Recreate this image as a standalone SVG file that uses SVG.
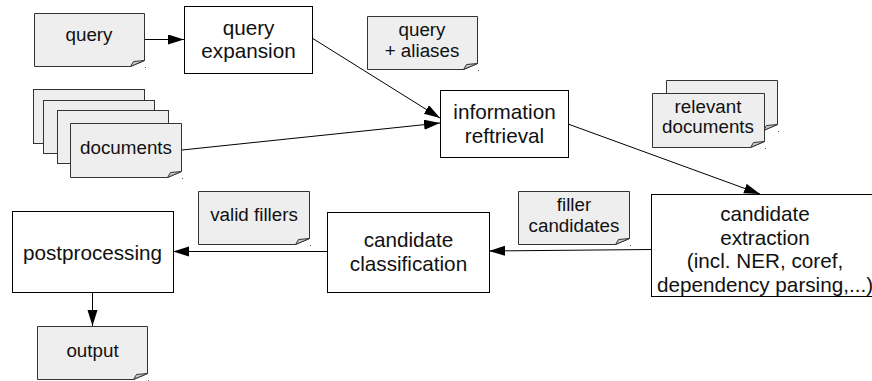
<svg xmlns="http://www.w3.org/2000/svg" width="872" height="381" viewBox="0 0 872 381">
<style>
.proc{fill:#fff;stroke:#000;stroke-width:1}
.doc{fill:#eeeeee;stroke:#333;stroke-width:1}
.fold{fill:#c8c8c8;stroke:#333;stroke-width:1;stroke-linejoin:round}
.dot{fill:#555}
.pt{font-family:"Liberation Sans",Arial,sans-serif;font-size:20.7px;fill:#111;text-anchor:middle}
.dt{font-family:"Liberation Sans",Arial,sans-serif;font-size:18.8px;fill:#111;text-anchor:middle}
.conn{stroke:#000;stroke-width:1;fill:none;marker-end:url(#ah)}
</style>
<defs>
<marker id="ah" markerUnits="userSpaceOnUse" markerWidth="17" markerHeight="11" refX="16" refY="5" orient="auto">
<path d="M0,0 L16,5 L0,10 z" fill="#000"/>
</marker>
</defs>

<g id="connectors">
<line class="conn" x1="144" y1="39.5" x2="184" y2="39.5"/>
<line class="conn" x1="312" y1="38" x2="440" y2="118"/>
<line class="conn" x1="182" y1="150" x2="440" y2="123"/>
<line class="conn" x1="568" y1="124" x2="760" y2="194"/>
<line class="conn" x1="651" y1="249.5" x2="489" y2="251"/>
<line class="conn" x1="327" y1="251.5" x2="173" y2="251.5"/>
<line class="conn" x1="92.5" y1="292" x2="92.5" y2="326"/>
</g>

<g id="query">
<path class="doc" d="M34.5,13.5 H144.5 V60.5 L130.5,66.5 H34.5 Z"/>
<path class="fold" d="M144.5,60.5 L130.5,66.5 L133.5,61.5 Z"/>
<rect class="dot" x="145" y="67" width="1" height="1"/>
<text class="dt" x="89" y="41">query</text>
</g>

<g id="query-expansion">
<rect class="proc" x="184.5" y="6.5" width="128" height="67"/>
<text class="pt" x="248.5" y="35">query</text>
<text class="pt" x="248.5" y="58">expansion</text>
</g>

<g id="query-aliases">
<path class="doc" d="M367.5,16.5 H477.5 V63.5 L463.5,69.5 H367.5 Z"/>
<path class="fold" d="M477.5,63.5 L463.5,69.5 L466.5,64.5 Z"/>
<rect class="dot" x="478" y="70" width="1" height="1"/>
<text class="dt" x="422" y="36">query</text>
<text class="dt" x="422" y="57">+ aliases</text>
</g>

<g id="documents">
<rect class="doc" x="33.5" y="89.5" width="111" height="54"/>
<rect class="doc" x="43.5" y="100.5" width="111" height="53"/>
<rect class="doc" x="57.5" y="110.5" width="111" height="53"/>
<path class="doc" d="M70.5,123.5 H181.5 V171.5 L167.5,177.5 H70.5 Z"/>
<path class="fold" d="M181.5,171.5 L167.5,177.5 L170.5,172.5 Z"/>
<rect class="dot" x="182" y="178" width="1" height="1"/>
<text class="dt" x="126" y="154">documents</text>
</g>

<g id="information-retrieval">
<rect class="proc" x="440.5" y="90.5" width="128" height="67"/>
<text class="pt" x="504.5" y="119">information</text>
<text class="pt" x="504.5" y="143">reftrieval</text>
</g>

<g id="relevant-documents">
<path class="doc" d="M666.5,80.5 H777.5 V124.5 L763.5,130.5 H666.5 Z"/>
<path class="fold" d="M777.5,124.5 L763.5,130.5 L766.5,125.5 Z"/>
<rect class="dot" x="778" y="131" width="1" height="1"/>
<path class="doc" d="M652.5,93.5 H764.5 V141.5 L750.5,147.5 H652.5 Z"/>
<path class="fold" d="M764.5,141.5 L750.5,147.5 L753.5,142.5 Z"/>
<rect class="dot" x="765" y="148" width="1" height="1"/>
<text class="dt" x="708" y="113">relevant</text>
<text class="dt" x="708" y="133">documents</text>
</g>

<g id="candidate-extraction">
<rect class="proc" x="651.5" y="194.5" width="230" height="102"/>
<text class="pt" x="765" y="221">candidate</text>
<text class="pt" x="765" y="245">extraction</text>
<text class="pt" x="765" y="268">(incl. NER, coref,</text>
<text class="pt" x="765" y="292">dependency parsing,...)</text>
</g>

<g id="filler-candidates">
<path class="doc" d="M518.5,191.5 H629.5 V238.5 L615.5,244.5 H518.5 Z"/>
<path class="fold" d="M629.5,238.5 L615.5,244.5 L618.5,239.5 Z"/>
<rect class="dot" x="630" y="245" width="1" height="1"/>
<text class="dt" x="574" y="211">filler</text>
<text class="dt" x="574" y="232">candidates</text>
</g>

<g id="candidate-classification">
<rect class="proc" x="327.5" y="212.5" width="162" height="80"/>
<text class="pt" x="408.5" y="247">candidate</text>
<text class="pt" x="408.5" y="271">classification</text>
</g>

<g id="valid-fillers">
<path class="doc" d="M198.5,191.5 H309.5 V238.5 L295.5,244.5 H198.5 Z"/>
<path class="fold" d="M309.5,238.5 L295.5,244.5 L298.5,239.5 Z"/>
<rect class="dot" x="310" y="245" width="1" height="1"/>
<text class="dt" x="254" y="221">valid fillers</text>
</g>

<g id="postprocessing">
<rect class="proc" x="12.5" y="211.5" width="161" height="81"/>
<text class="pt" x="92.5" y="260">postprocessing</text>
</g>

<g id="output">
<path class="doc" d="M37.5,326.5 H147.5 V373.5 L133.5,379.5 H37.5 Z"/>
<path class="fold" d="M147.5,373.5 L133.5,379.5 L136.5,374.5 Z"/>
<rect class="dot" x="148" y="380" width="1" height="1"/>
<text class="dt" x="92.5" y="357">output</text>
</g>
</svg>
